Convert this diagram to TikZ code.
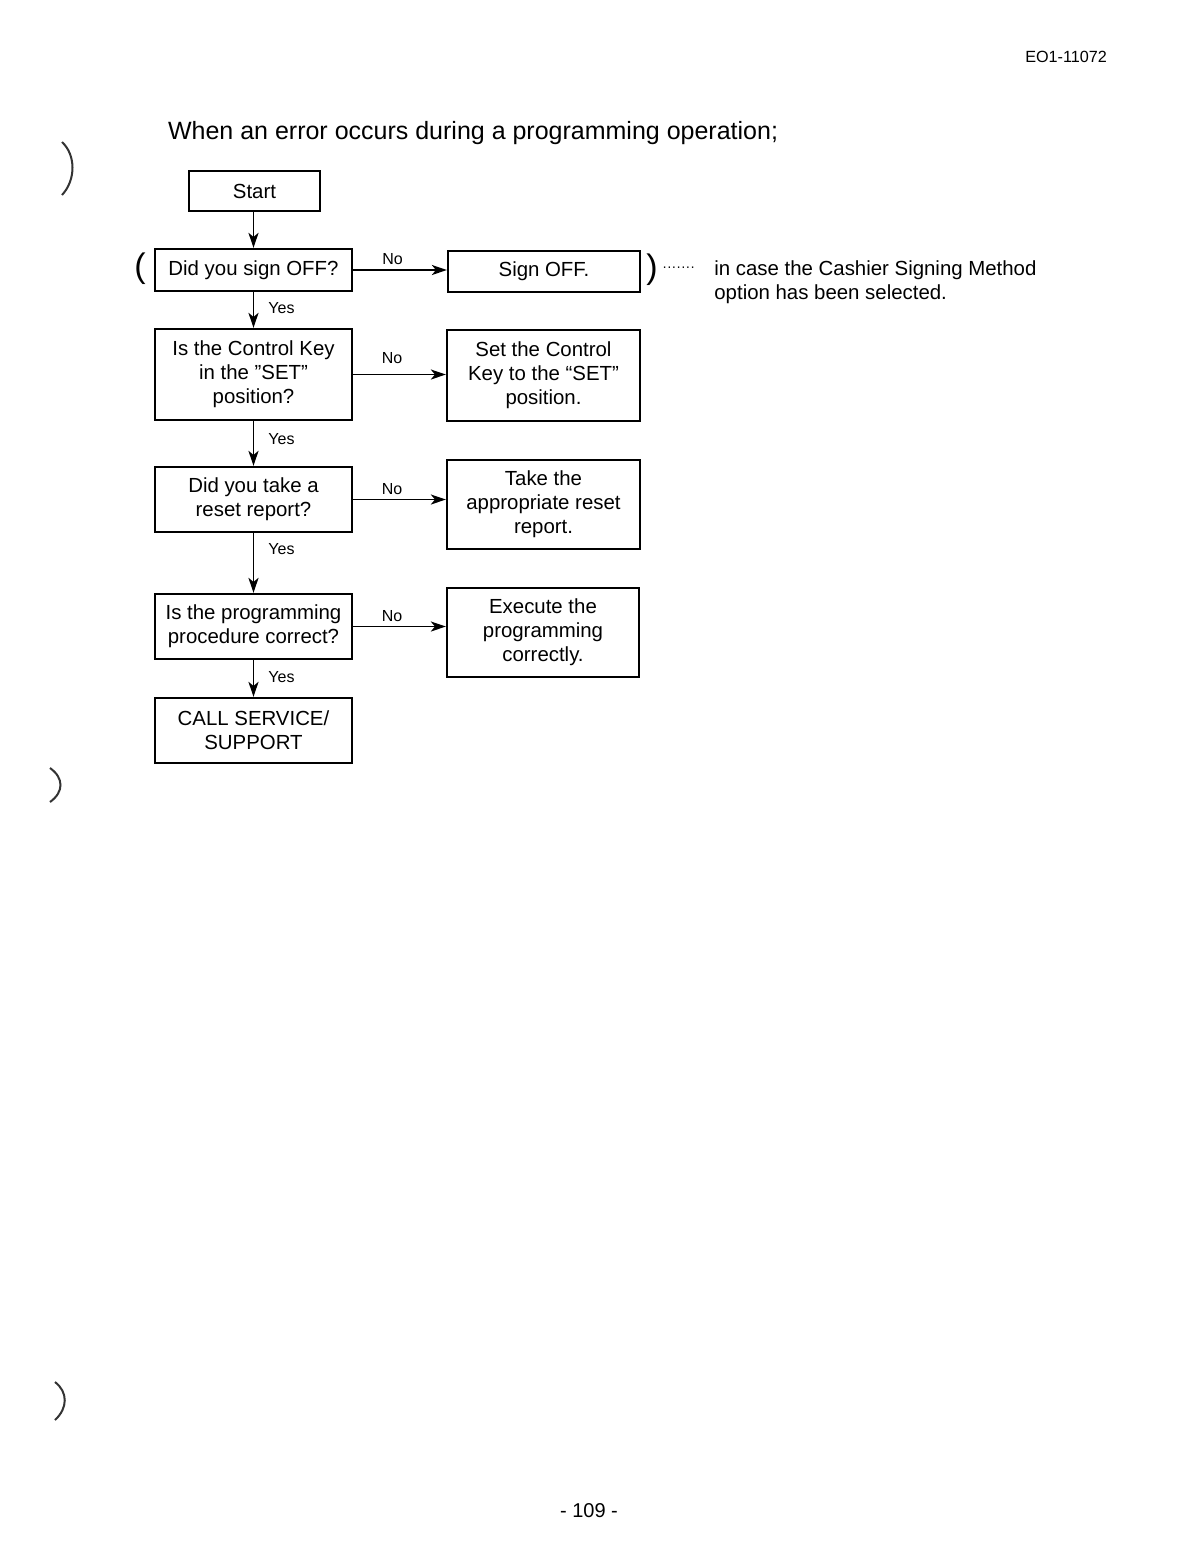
\documentclass[tikz,border=0pt]{standalone}
\usepackage{fontspec}
\setmainfont{Liberation Sans}
\usetikzlibrary{arrows.meta,calc}
\begin{document}
\begin{tikzpicture}[x=0.5pt,y=-0.5pt,
  box/.style={draw,line width=1.1pt,inner sep=0pt,align=center,font=\fontsize{10.2}{12}\selectfont},
  arr/.style={line width=0.9pt,-{Stealth[length=7.5pt,width=5pt,inset=2pt]}},
  lbl/.style={font=\fontsize{8}{9}\selectfont,inner sep=1pt},
  holemark/.style={line width=1pt,black!80}]
\useasboundingbox[fill=white] (0,0) rectangle (1202,1560);
% header, title, footer
\node[font=\fontsize{8.1}{9}\selectfont,anchor=east] (hdr) at (1114,57) {EO1-11072};
\node[font=\fontsize{12.5}{14}\selectfont,anchor=west] (title) at (161,133) {When an error occurs during a programming operation;};
\node[font=\fontsize{10}{12}\selectfont] (page) at (589,1511) {- 109 -};
% boxes
\node[box,minimum width=65.5pt,minimum height=20pt] (start) at (254.5,191) {Start};
\node[box,minimum width=98.5pt,minimum height=21pt] (q1) at (253.5,270) {Did you sign OFF?};
\node[box,minimum width=96pt,minimum height=20.5pt] (s1) at (544,271.5) {Sign OFF.};
\node[box,minimum width=98.5pt,minimum height=45.5pt] (q2) at (253.5,374.5) {Is the Control Key\\in the "SET"\\position?};
\node[box,minimum width=96.5pt,minimum height=45.5pt] (s2) at (543.5,375.5) {Set the Control\\Key to the “SET”\\position.};
\node[box,minimum width=98.5pt,minimum height=32.5pt] (q3) at (253.5,499.5) {Did you take a\\reset report?};
\node[box,minimum width=96.5pt,minimum height=44.5pt] (s3) at (543.5,504.5) {Take the\\appropriate reset\\report.};
\node[box,minimum width=98.5pt,minimum height=32.5pt] (q4) at (253.5,626.5) {Is the programming\\procedure correct?};
\node[box,minimum width=96pt,minimum height=44.5pt] (s4) at (543,632.5) {Execute the\\programming\\correctly.};
\node[box,minimum width=98.5pt,minimum height=32.5pt] (fin) at (253.5,730.5) {CALL SERVICE/\\SUPPORT};
% vertical flow
\draw[arr] (q1.north |- start.south) -- (q1.north);
\draw[arr] (q1.south) -- node[lbl,right,pos=0.45,xshift=6pt] {Yes} (q2.north);
\draw[arr] (q2.south) -- node[lbl,right,pos=0.4,xshift=6pt] {Yes} (q3.north);
\draw[arr] (q3.south) -- node[lbl,right,pos=0.27,xshift=6pt] {Yes} (q4.north);
\draw[arr] (q4.south) -- node[lbl,right,pos=0.45,xshift=6pt] {Yes} (fin.north);
% horizontal flow
\draw[arr] (q1.east) -- node[lbl,above,pos=0.42,yshift=1pt] {No} (q1.east -| s1.west);
\draw[arr] (q2.east) -- node[lbl,above,pos=0.42,yshift=4pt] {No} (q2.east -| s2.west);
\draw[arr] (q3.east) -- node[lbl,above,pos=0.42,yshift=1pt] {No} (q3.east -| s3.west);
\draw[arr] (q4.east) -- node[lbl,above,pos=0.42,yshift=1pt] {No} (q4.east -| s4.west);
% note
\node[font=\fontsize{17}{17}\selectfont,inner sep=0pt] (lp) at (140,269) {(};
\node[font=\fontsize{17}{17}\selectfont,inner sep=0pt] (rp) at (652,270) {)};
\node[font=\fontsize{7}{8}\selectfont,inner sep=0pt,anchor=west] (dots) at (662,269) {·······};
\node[font=\fontsize{10.2}{12}\selectfont,align=left,anchor=north west,inner sep=0pt] (note) at (714,260) {in case the Cashier Signing Method\\option has been selected.};
% margin marks
\draw[holemark] (62,142) .. controls (76,155) and (76,180) .. (62,195);
\draw[holemark] (50,768) .. controls (64,778) and (64,792) .. (50,802);
\draw[holemark] (55,1382) .. controls (68,1392) and (68,1408) .. (55,1420);
\end{tikzpicture}
\end{document}
